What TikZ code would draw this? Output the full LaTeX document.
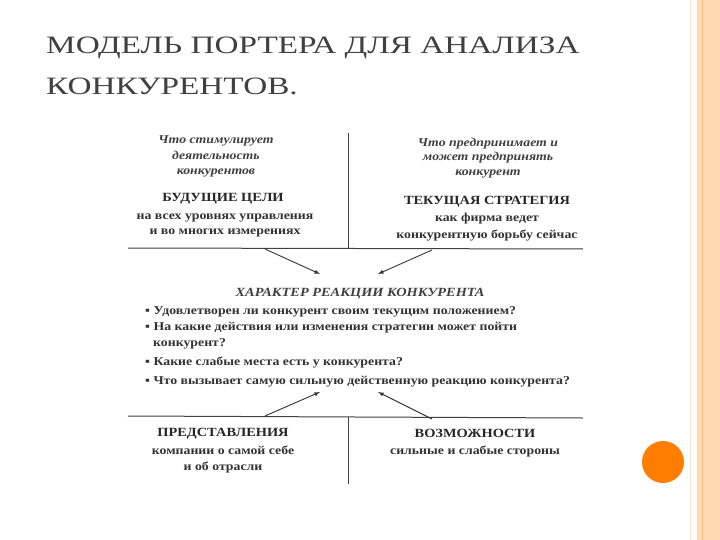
\documentclass[tikz,border=0pt]{standalone}
\usepackage{fontspec}
\setmainfont{Liberation Serif}
\newfontfamily\wide[FakeStretch=1.15]{Liberation Serif}
\newfontfamily\tfont[FakeStretch=1.33]{Liberation Serif}
\begin{document}
\begin{tikzpicture}[x=1pt,y=-1pt,
  t/.style={font=\wide\fontsize{12}{14}\selectfont\bfseries,text=black!80,inner sep=0,text height=8.5pt,text depth=2.5pt},
  hd/.style={font=\wide\fontsize{12.5}{14}\selectfont\bfseries,text=black!85,inner sep=0,text height=8.5pt,text depth=2.5pt},
  it/.style={font=\wide\fontsize{12}{14}\selectfont\bfseries\itshape,text=black!75,inner sep=0,text height=8.5pt,text depth=2.5pt},
  ln/.style={line width=1pt,black!75},
  ar/.style={line width=0.9pt,black!80,-latex}]
\useasboundingbox (0,0) rectangle (720,540);
\fill[white] (0,0) rectangle (720,540);
% right border
\fill[orange!30!white] (697,0) rectangle (720,540);
\draw[orange!25] (690.5,0) -- (690.5,540);
\draw[orange!55,line width=0.8pt] (702,0) -- (702,540);
\fill[orange!80!red!85!yellow] (663,462) circle (21);
% title
\node[anchor=west,font=\tfont\fontsize{25}{28}\selectfont,text=black!75,inner sep=0] (t1) at (46,48) {МОДЕЛЬ ПОРТЕРА ДЛЯ АНАЛИЗА};
\node[anchor=west,font=\tfont\fontsize{25}{28}\selectfont,text=black!75,inner sep=0] (t2) at (46,86) {КОНКУРЕНТОВ.};
% lines
\coordinate (vt1) at (348,133); \coordinate (vt2) at (348,248);
\coordinate (h1a) at (128,248); \coordinate (h1b) at (583,249);
\coordinate (h2a) at (128,416); \coordinate (h2b) at (583,418);
\coordinate (vb1) at (348,417); \coordinate (vb2) at (348,484);
\draw[ln] (vt1) -- (vt2); \draw[ln] (h1a) -- (h1b);
\draw[ln] (h2a) -- (h2b); \draw[ln] (vb1) -- (vb2);
% top left
\node[it] (a1) at (216,141) {Что стимулирует};
\node[it] (a2) at (216,157) {деятельность};
\node[it] (a3) at (216,172) {конкурентов};
\node[hd] (a4) at (223,199) {БУДУЩИЕ ЦЕЛИ};
\node[t] (a5) at (225,216) {на всех уровнях управления};
\node[t] (a6) at (225,232) {и во многих измерениях};
% top right
\node[it] (b1) at (488,144) {Что предпринимает и};
\node[it] (b2) at (488,158) {может предпринять};
\node[it] (b3) at (488,173) {конкурент};
\node[hd] (b4) at (487,202) {ТЕКУЩАЯ СТРАТЕГИЯ};
\node[t] (b5) at (487,219) {как фирма ведет};
\node[t] (b6) at (487,236) {конкурентную борьбу сейчас};
% middle
\node[it,font=\wide\fontsize{12.5}{14}\selectfont\bfseries\itshape] (c0) at (360,293) {ХАРАКТЕР РЕАКЦИИ КОНКУРЕНТА};
\node[t,anchor=west] (c1) at (145,311) {▪ Удовлетворен ли конкурент своим текущим положением?};
\node[t,anchor=west] (c2) at (145,327) {▪ На какие действия или изменения стратегии может пойти};
\node[t,anchor=west] (c3) at (153,343) {конкурент?};
\node[t,anchor=west] (c4) at (145,362) {▪ Какие слабые места есть у конкурента?};
\node[t,anchor=west] (c5) at (145,381) {▪ Что вызывает самую сильную действенную реакцию конкурента?};
% bottom
\node[hd] (d1) at (223,433) {ПРЕДСТАВЛЕНИЯ};
\node[t] (d2) at (223,451) {компании о самой себе};
\node[t] (d3) at (223,467) {и об отрасли};
\node[hd] (e1) at (475,434) {ВОЗМОЖНОСТИ};
\node[t] (e2) at (475,451) {сильные и слабые стороны};
% arrows
\coordinate (p1) at (265,249); \coordinate (q1) at (320,274);
\coordinate (p2) at (432,250); \coordinate (q2) at (378,274);
\coordinate (p3) at (265,416); \coordinate (q3) at (320,392);
\coordinate (p4) at (432,419); \coordinate (q4) at (378,392);
\draw[ar] (p1) -- (q1); \draw[ar] (p2) -- (q2);
\draw[ar] (p3) -- (q3); \draw[ar] (p4) -- (q4);
\end{tikzpicture}
\end{document}
